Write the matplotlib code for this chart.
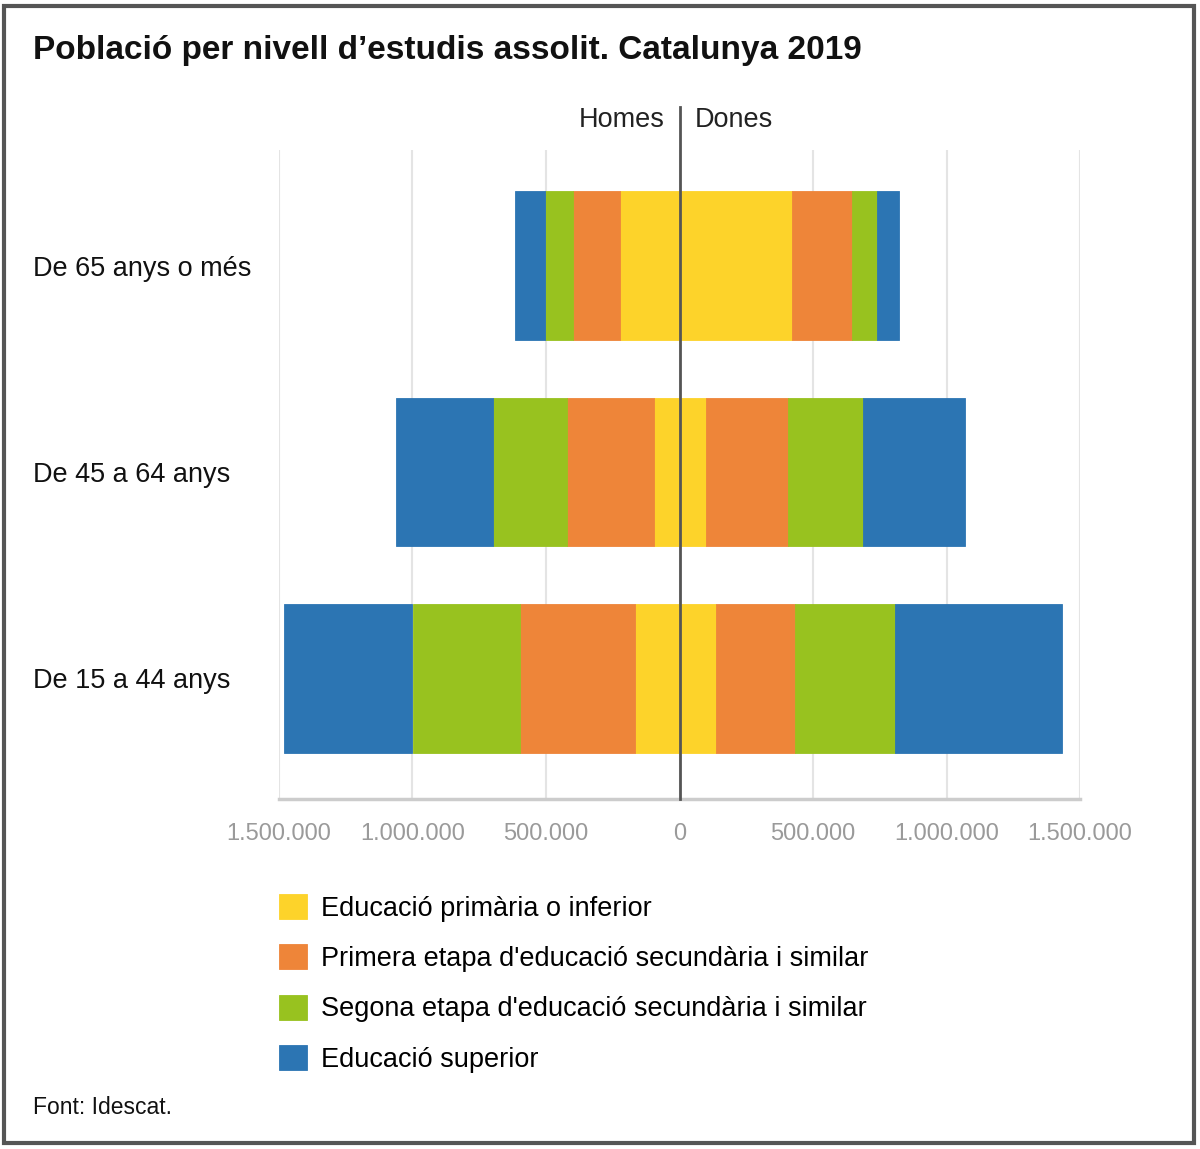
import matplotlib.pyplot as plt
from matplotlib.patches import Rectangle

plt.rcParams['font.family'] = ['Liberation Sans', 'DejaVu Sans']

# age groups, top to bottom
groups = ['De 65 anys o més', 'De 45 a 64 anys', 'De 15 a 44 anys']
levels = ['Educació primària o inferior',
          "Primera etapa d'educació secundària i similar",
          "Segona etapa d'educació secundària i similar",
          'Educació superior']
colors = ['#fdd32a', '#ee8539', '#98c21f', '#2c75b3']

# population by level (rows = levels, cols = groups)
homes = [
    [224000, 97000, 168000],
    [175000, 325000, 429000],
    [104000, 276000, 403000],
    [112000, 362000, 481000],
]
dones = [
    [422000, 101000, 138000],
    [224000, 306000, 295000],
    [93000, 280000, 373000],
    [82000, 381000, 627000],
]
xticks = [-1500000, -1000000, -500000, 0, 500000, 1000000, 1500000]

fig = plt.figure(figsize=(12, 11.49), dpi=100)
ax = fig.add_axes([279 / 1200, 1 - 799 / 1149, 801 / 1200, 649 / 1149])

ypos = list(range(len(groups)))
left_h = [0] * len(groups)
left_d = [0] * len(groups)
handles = []
for i, lev in enumerate(levels):
    vals_h = [-v for v in homes[i]]
    b = ax.barh(ypos, vals_h, left=left_h, height=0.72, color=colors[i],
                edgecolor=colors[i], linewidth=0.6, label=lev, zorder=2)
    ax.barh(ypos, dones[i], left=left_d, height=0.72, color=colors[i],
            edgecolor=colors[i], linewidth=0.6, zorder=2)
    left_h = [a + b_ for a, b_ in zip(left_h, vals_h)]
    left_d = [a + b_ for a, b_ in zip(left_d, dones[i])]
    handles.append(b)

ax.set_xlim(-1500000, 1500000)
ax.set_ylim(2.585, -0.56)
ax.set_xticks(xticks)
ax.set_xticklabels([f"{abs(v):,}".replace(',', '.') for v in xticks], color='#9a9a9a', fontsize=17)
ax.tick_params(axis='x', length=0, pad=17)
ax.set_yticks(ypos)
ax.set_yticklabels(groups, fontsize=19.5, color='#111111')
for lab in ax.get_yticklabels():
    lab.set_ha('left')
ax.tick_params(axis='y', length=0, pad=177)
ax.grid(axis='x', color='#e4e4e4', linewidth=1.5, zorder=0)
for s in ['top', 'left', 'right']:
    ax.spines[s].set_visible(False)
ax.spines['bottom'].set_color('#cccccc')
ax.spines['bottom'].set_linewidth(2.5)

# centre line between men and women
ax.plot([0, 0], [2.585, -0.77], color='#555555', linewidth=2, clip_on=False, zorder=3)
ax.text(-56000, -0.705, 'Homes', ha='right', va='center', fontsize=19.5, color='#222222')
ax.text(56000, -0.705, 'Dones', ha='left', va='center', fontsize=19.5, color='#222222')

fig.text(33 / 1200, 1 - 50 / 1149, "Població per nivell d\u2019estudis assolit. Catalunya 2019",
         fontsize=24, fontweight='bold', va='center', ha='left', color='#111111')

fig.legend(handles=handles, labels=levels, loc='upper left',
           bbox_to_anchor=(279 / 1200, 1 - 894 / 1149), frameon=False,
           fontsize=19.5, handlelength=1.05, handleheight=1.05, handletextpad=0.5,
           labelspacing=0.83, borderpad=0, borderaxespad=0)

fig.text(33 / 1200, 1 - 1107 / 1149, 'Font: Idescat.', fontsize=16.5, va='center', ha='left', color='#111111')

fig.patches.append(Rectangle((4 / 1200, 6 / 1149), 1190 / 1200, 1137 / 1149, transform=fig.transFigure,
                             fill=False, edgecolor='#555555', linewidth=3))

fig.savefig('out.png', dpi=100)
